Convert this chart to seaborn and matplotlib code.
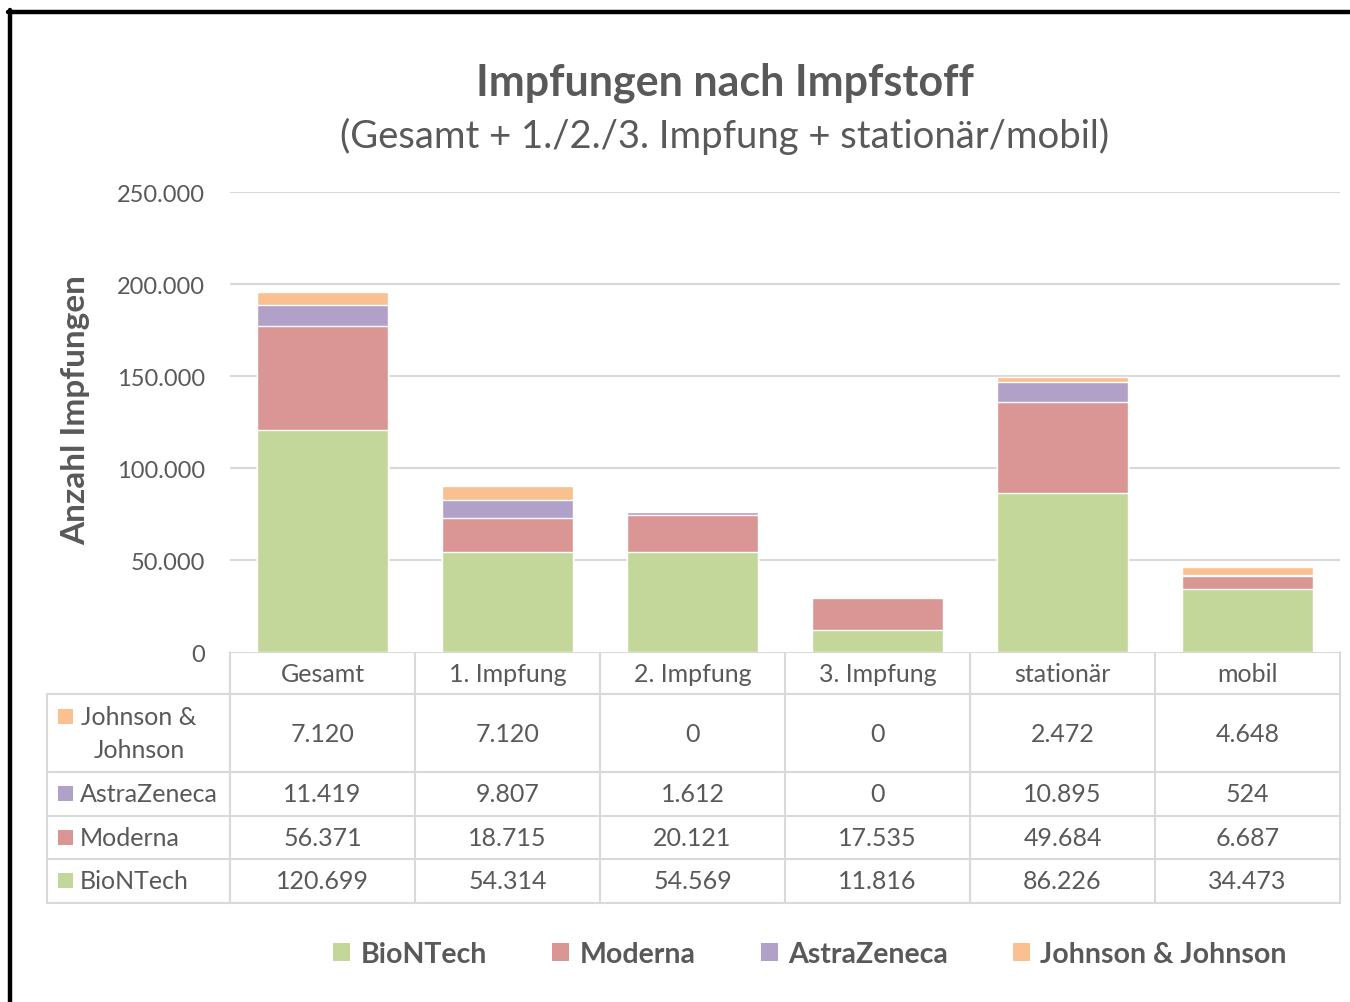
import matplotlib
matplotlib.use("Agg")
import matplotlib.pyplot as plt
from matplotlib.lines import Line2D
from matplotlib.patches import Patch, Rectangle
import numpy as np
import seaborn as sns

# ------------------------------------------------
# Data
# ------------------------------------------------

categories = ["Gesamt", "1. Impfung", "2. Impfung", "3. Impfung", "stationär", "mobil"]
biontech = [120699, 54314, 54569, 11816, 86226, 34473]
moderna = [56371, 18715, 20121, 17535, 49684, 6687]
astrazeneca = [11419, 9807, 1612, 0, 10895, 524]
johnson = [7120, 7120, 0, 0, 2472, 4648]

y_ticks = [0, 50000, 100000, 150000, 200000, 250000]

series_names = ["BioNTech", "Moderna", "AstraZeneca", "Johnson & Johnson"]
colors = {
    "BioNTech": "#C4D79B",
    "Moderna": "#DA9694",
    "AstraZeneca": "#B1A0C7",
    "Johnson & Johnson": "#FAC090",
}

TEXT = "#595959"
GRID = "#D9D9D9"
W, H = 1350, 1003


def fmt(v):
    return f"{v:,}".replace(",", ".")


def fx(px):
    return px / W


def fy(py):
    return 1 - py / H


sns.set_style("white")
plt.rcParams["font.family"] = ["Lato", "DejaVu Sans"]
plt.rcParams["text.color"] = TEXT

fig = plt.figure(figsize=(13.5, 10.03), dpi=100)

# ------------------------------------------------
# Bars (stacked via cumulative overlap)
# ------------------------------------------------

ax = fig.add_axes([fx(230), fy(653), fx(1340) - fx(230), fy(193) - fy(653)])

layers = [biontech, moderna, astrazeneca, johnson]
cum = np.cumsum(np.array(layers), axis=0)
for i in range(len(layers) - 1, -1, -1):
    sns.barplot(x=categories, y=cum[i], color=colors[series_names[i]],
                saturation=1, width=0.71, ax=ax, zorder=3)

ax.set_xlim(-0.5, 5.5)
ax.set_ylim(0, 250000)
ax.set_yticks(y_ticks)
ax.set_yticklabels([fmt(t) for t in y_ticks], fontsize=17, color=TEXT)
ax.set_xticks([])
ax.tick_params(axis="y", length=0, pad=18)
for s in ax.spines.values():
    s.set_visible(False)
for t in y_ticks[1:]:
    ax.axhline(t, color=GRID, lw=1.5, zorder=1)
ax.set_xlabel("")
ax.set_ylabel("")

fig.text(fx(76), fy(410), "Anzahl Impfungen", rotation=90, fontsize=24,
         fontweight="bold", color=TEXT, ha="center", va="center")

# ------------------------------------------------
# Titles
# ------------------------------------------------

fig.text(fx(725), fy(83), "Impfungen nach Impfstoff", fontsize=31,
         fontweight="bold", color=TEXT, ha="center", va="center")
fig.text(fx(725), fy(136), "(Gesamt + 1./2./3. Impfung + stationär/mobil)",
         fontsize=27.5, color=TEXT, ha="center", va="center")

# ------------------------------------------------
# Data table
# ------------------------------------------------

tax = fig.add_axes([0, 0, 1, 1], zorder=-1)
tax.set_xlim(0, W)
tax.set_ylim(H, 0)
tax.axis("off")

col_x = [230, 415, 600, 785, 970, 1155, 1340]
row_y = [653, 695, 773, 817, 860, 904]
lw = 1.5
tax.plot([230, 1340], [653, 653], color=GRID, lw=lw)
for yy in row_y[1:]:
    tax.plot([47, 1340], [yy, yy], color=GRID, lw=lw)
for xx in col_x:
    tax.plot([xx, xx], [653, 904], color=GRID, lw=lw)
tax.plot([47, 47], [695, 904], color=GRID, lw=lw)

centers = [(col_x[i] + col_x[i + 1]) / 2 for i in range(6)]
for c, label in zip(centers, categories):
    tax.text(c, 674, label, fontsize=18, ha="center", va="center", color=TEXT)

table_rows = [
    ("Johnson & Johnson", johnson),
    ("AstraZeneca", astrazeneca),
    ("Moderna", moderna),
    ("BioNTech", biontech),
]
for r, (name, vals) in enumerate(table_rows):
    yc = (row_y[r + 1] + row_y[r + 2]) / 2
    for c, v in zip(centers, vals):
        tax.text(c, yc, fmt(v), fontsize=18, ha="center", va="center", color=TEXT)
    if name == "Johnson & Johnson":
        tax.add_patch(Rectangle((58, 710), 15, 15, color=colors[name], lw=0))
        tax.text(139, yc, "Johnson &\nJohnson", fontsize=18, ha="center",
                 va="center", multialignment="center", color=TEXT, linespacing=1.55)
    else:
        tax.add_patch(Rectangle((58, yc - 8), 15, 15, color=colors[name], lw=0))
        tax.text(80, yc, name, fontsize=18, ha="left", va="center", color=TEXT)

# ------------------------------------------------
# Legend
# ------------------------------------------------

handles = [Patch(facecolor=colors[n], edgecolor="none", label=n) for n in series_names]
fig.legend(handles=handles, loc="center", bbox_to_anchor=(fx(810), fy(955)),
           ncol=4, frameon=False, handlelength=0.6, handleheight=0.6,
           handletextpad=0.35, columnspacing=2.3,
           prop={"size": 20.5, "weight": "bold"}, labelcolor=TEXT)

# ------------------------------------------------
# Outer frame
# ------------------------------------------------

fig.add_artist(Line2D([fx(8), 1.0], [fy(13), fy(13)], color="black", lw=3.2))
fig.add_artist(Line2D([fx(10), fx(10)], [fy(11), 0.0], color="black", lw=3.2))

plt.savefig("out.png", dpi=100)
